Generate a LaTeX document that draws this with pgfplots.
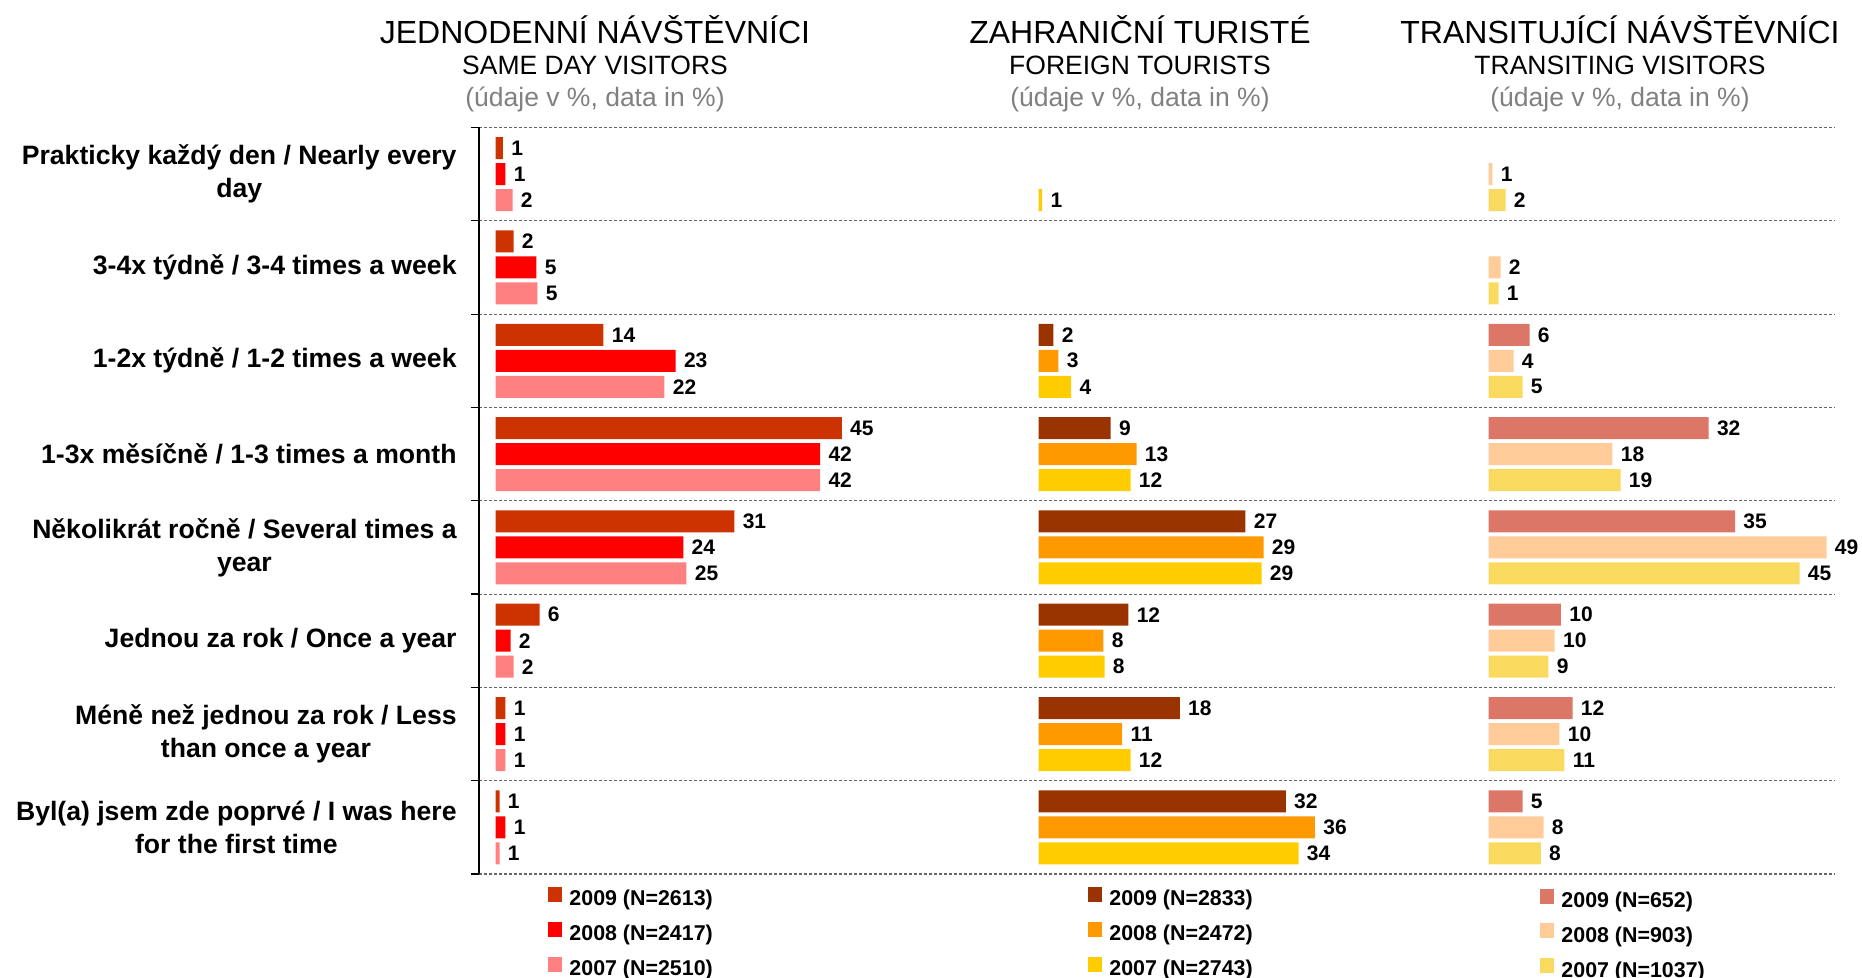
\documentclass[border=0pt]{standalone}
\usepackage{pgfplots}
\pgfplotsset{compat=1.18}
\usepackage{pgfplotstable}
\usepackage{fontspec}
\setmainfont{Liberation Sans}

\definecolor{pAa}{HTML}{CC3300}
\definecolor{pAb}{HTML}{FF0000}
\definecolor{pAc}{HTML}{FF8080}
\definecolor{pBa}{HTML}{993300}
\definecolor{pBb}{HTML}{FF9900}
\definecolor{pBc}{HTML}{FFCC00}
\definecolor{pCa}{HTML}{DC7767}
\definecolor{pCb}{HTML}{FFCC99}
\definecolor{pCc}{HTML}{FAD95F}
\definecolor{subgray}{HTML}{808080}

% y: 7 = top category ... 0 = bottom category
% a = 2009, b = 2008, c = 2007 ; *l = printed label
\pgfplotstableread{
y a al b bl c cl
7 0.95 1 1.29 1 2.2 2
6 2.33 2 5.3 5 5.43 5
5 13.97 14 23.3 23 21.86 22
4 44.8 45 42.0 42 42.0 42
3 30.9 31 24.3 24 24.7 25
2 5.7 6 1.94 2 2.33 2
1 1.29 1 1.29 1 1.29 1
0 0.52 1 1.29 1 0.52 1
}\tabA

\pgfplotstableread{
y a al b bl c cl
7 nan nan nan nan 0.48 1
6 nan nan nan nan nan nan
5 1.95 2 2.6 3 4.25 4
4 9.4 9 12.76 13 11.98 12
3 26.95 27 29.3 29 29.04 29
2 11.7 12 8.46 8 8.6 8
1 18.4 18 10.9 11 11.98 12
0 32.2 32 36.0 36 33.86 34
}\tabB

\pgfplotstableread{
y a al b bl c cl
7 nan nan 0.57 1 2.44 2
6 nan nan 1.72 2 1.44 1
5 5.89 6 3.59 4 4.88 5
4 31.6 32 17.8 18 18.95 19
3 35.4 35 48.53 49 44.65 45
2 10.4 10 9.5 10 8.6 9
1 12.06 12 10.19 10 10.9 11
0 4.88 5 7.9 8 7.5 8
}\tabC

\pgfplotsset{
  panel/.style={
    xbar, scale only axis, hide axis, clip=false,
    height=373.25pt, ymin=-0.5, ymax=7.5, xmin=0, xmax=50,
    anchor=north west,
    bar width=11pt,
    point meta=explicit,
    /pgf/number format/assume math mode=true,
    nodes near coords,
    every node near coord/.append style={anchor=west, inner sep=0pt, xshift=4pt,
      font=\bfseries\fontsize{10.5}{12}\selectfont, text=black},
    legend image code/.code={\fill[##1] (0pt,-0.8pt) rectangle (7pt,6.7pt);},
    legend cell align=left,
    legend style={draw=none, fill=none, anchor=north west, inner sep=0pt,
      row sep=5.5pt, font=\bfseries\fontsize{10.7}{12}\selectfont,
      nodes={inner sep=0pt, text height=8pt, text depth=2.5pt},
      /tikz/every odd column/.append style={column sep=3.5pt}},
  }
}

\begin{document}
\begin{tikzpicture}
\path[use as bounding box] (0pt,0pt) rectangle (931pt,-489pt);

% titles
\node[anchor=base, font=\fontsize{16}{19}\selectfont] at (297.5pt,-21.65pt) {JEDNODENNÍ NÁVŠTĚVNÍCI};
\node[anchor=base, font=\fontsize{13.25}{16}\selectfont] at (297.5pt,-37.5pt) {SAME DAY VISITORS};
\node[anchor=base, font=\fontsize{13.25}{16}\selectfont, text=subgray] at (297.5pt,-53.35pt) {(údaje v \%, data in \%)};

\node[anchor=base, font=\fontsize{16}{19}\selectfont] at (570pt,-21.65pt) {ZAHRANIČNÍ TURISTÉ};
\node[anchor=base, font=\fontsize{13.25}{16}\selectfont] at (570pt,-37.5pt) {FOREIGN TOURISTS};
\node[anchor=base, font=\fontsize{13.25}{16}\selectfont, text=subgray] at (570pt,-53.35pt) {(údaje v \%, data in \%)};

\node[anchor=base, font=\fontsize{16}{19}\selectfont] at (810pt,-21.65pt) {TRANSITUJÍCÍ NÁVŠTĚVNÍCI};
\node[anchor=base, font=\fontsize{13.25}{16}\selectfont] at (810pt,-37.5pt) {TRANSITING VISITORS};
\node[anchor=base, font=\fontsize{13.25}{16}\selectfont, text=subgray] at (810pt,-53.35pt) {(údaje v \%, data in \%)};

% frame axis: category labels and dashed separators
\begin{axis}[
  at={(239.5pt,-63.75pt)}, anchor=north west, scale only axis,
  width=678pt, height=373.25pt,
  xmin=0, xmax=1, ymin=-0.5, ymax=7.5,
  axis x line=none, axis y line*=left,
  axis line style={black, line width=0.6pt},
  ytick={0,...,7},
  yticklabels={{Byl(a) jsem zde poprvé / I was here\\for the first time},
    {Méně než jednou za rok / Less\\than once a year},
    {Jednou za rok / Once a year},
    {Několikrát ročně / Several times a\\year},
    {1-3x měsíčně / 1-3 times a month},
    {1-2x týdně / 1-2 times a week},
    {3-4x týdně / 3-4 times a week},
    {Prakticky každý den / Nearly every\\day}},
  minor ytick={-0.5,0.5,1.5,2.5,3.5,4.5,5.5,6.5,7.5},
  yminorgrids,
  minor grid style={black!60, line width=0.55pt, dash pattern=on 1.5pt off 1pt},
  major tick length=0pt, minor tick length=4pt, tick align=outside,
  minor tick style={black, line width=0.6pt},
  yticklabel style={align=center, inner sep=0pt, xshift=-11pt,
    font=\bfseries\fontsize{13.3}{16.5}\selectfont},
  clip=false,
]
\addplot[draw=none] coordinates {(0,0)};
\end{axis}

% panel 1
\begin{axis}[panel, at={(247.75pt,-63.75pt)}, width=193.25pt,
  legend style={at={(0.136,-0.0169)}}]
\addplot[fill=pAa, draw=none, bar shift=13pt] table[x=a, y=y, meta=al] {\tabA};
\addlegendentry{2009 (N=2613)}
\addplot[fill=pAb, draw=none, bar shift=0pt] table[x=b, y=y, meta=bl] {\tabA};
\addlegendentry{2008 (N=2417)}
\addplot[fill=pAc, draw=none, bar shift=-13pt] table[x=c, y=y, meta=cl] {\tabA};
\addlegendentry{2007 (N=2510)}
\end{axis}

% panel 2
\begin{axis}[panel, at={(519.25pt,-63.75pt)}, width=192pt,
  legend style={at={(0.129,-0.0169)}}]
\addplot[fill=pBa, draw=none, bar shift=13pt] table[x=a, y=y, meta=al] {\tabB};
\addlegendentry{2009 (N=2833)}
\addplot[fill=pBb, draw=none, bar shift=0pt] table[x=b, y=y, meta=bl] {\tabB};
\addlegendentry{2008 (N=2472)}
\addplot[fill=pBc, draw=none, bar shift=-13pt] table[x=c, y=y, meta=cl] {\tabB};
\addlegendentry{2007 (N=2743)}
\end{axis}

% panel 3
\begin{axis}[panel, at={(744.25pt,-63.75pt)}, width=174.125pt,
  legend style={at={(0.148,-0.0190)}}]
\addplot[fill=pCa, draw=none, bar shift=13pt] table[x=a, y=y, meta=al] {\tabC};
\addlegendentry{2009 (N=652)}
\addplot[fill=pCb, draw=none, bar shift=0pt] table[x=b, y=y, meta=bl] {\tabC};
\addlegendentry{2008 (N=903)}
\addplot[fill=pCc, draw=none, bar shift=-13pt] table[x=c, y=y, meta=cl] {\tabC};
\addlegendentry{2007 (N=1037)}
\end{axis}
\end{tikzpicture}
\end{document}
